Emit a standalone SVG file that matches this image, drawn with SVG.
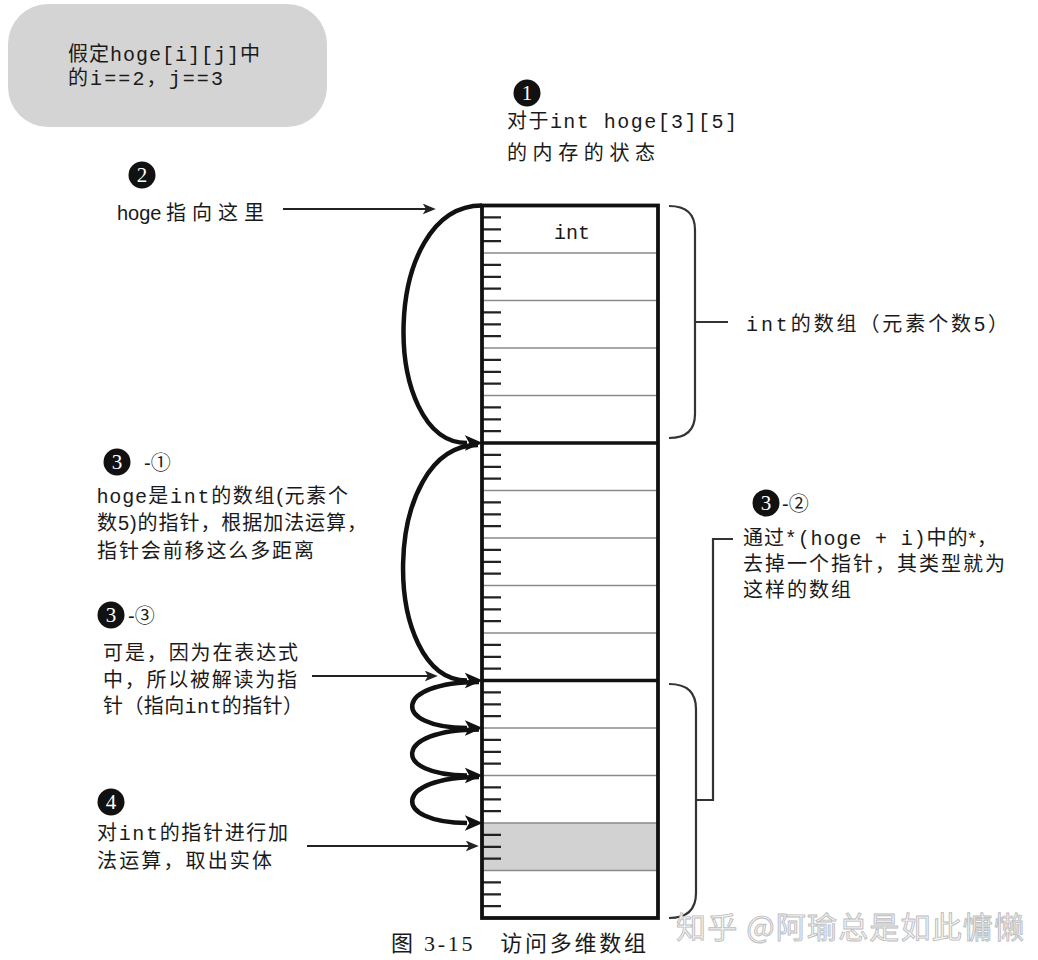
<svg xmlns="http://www.w3.org/2000/svg" width="1038" height="960" viewBox="0 0 1038 960">
<style>
.t{font-family:"Liberation Sans","Noto Sans CJK SC",sans-serif;font-size:20px;fill:#1a1a1a}
.m{font-family:"Liberation Mono","Noto Sans CJK SC",monospace}
.num{fill:#111}
.numt{font-family:"Liberation Serif","DejaVu Serif",serif;font-size:21px;fill:#fff;text-anchor:middle}
.thick{fill:none;stroke:#111;stroke-width:4.5}
.thin{fill:none;stroke:#222;stroke-width:1.8}
.brk{fill:none;stroke:#333;stroke-width:2.2}
.cellline{stroke:#8a8a8a;stroke-width:1.5}
.sep{stroke:#111;stroke-width:3.5}
.tick{fill:none;stroke:#222;stroke-width:2.2}
</style>
<defs>
<marker id="big" markerUnits="userSpaceOnUse" markerWidth="18" markerHeight="18" viewBox="0 0 16 16" refX="2" refY="8" orient="auto">
<path d="M0,1 L16,8 L0,15 L4,8 z" fill="#111"/>
</marker>
<marker id="small" markerUnits="userSpaceOnUse" markerWidth="13" markerHeight="11" viewBox="0 0 12 10" refX="3" refY="5" orient="auto">
<path d="M0,0 L12,5 L0,10 L3,5 z" fill="#222"/>
</marker>
</defs>
<rect width="1038" height="960" fill="#fff"/>

<g id="assumption">
<rect x="8" y="4" width="319" height="123" rx="40" ry="40" fill="#d4d4d4"/>
<text class="t" x="68" y="61" font-size="20" textLength="192" lengthAdjust="spacing">假定<tspan class="m">hoge[i][j]</tspan>中</text>
<text class="t" x="68" y="85" font-size="20" textLength="155" lengthAdjust="spacing">的<tspan class="m">i==2</tspan>，<tspan class="m">j==3</tspan></text>
</g>

<g id="label1">
<circle class="num" cx="527" cy="93" r="13.5"/>
<text class="numt" x="527" y="100">1</text>
<text class="t" x="507" y="128" font-size="21" textLength="230" lengthAdjust="spacing">对于<tspan class="m">int hoge[3][5]</tspan></text>
<text class="t" x="507" y="160" font-size="21" textLength="148" lengthAdjust="spacing">的内存的状态</text>
</g>

<g id="label2">
<circle class="num" cx="142" cy="175" r="13.5"/>
<text class="numt" x="142" y="182">2</text>
<text class="t" x="117" y="220" font-size="21">hoge<tspan x="166" dx="0 6 6 6">指向这里</tspan></text>
</g>

<g id="memory">
<rect x="482" y="205.5" width="176" height="712.5" fill="#fff"/>
<rect x="482" y="823" width="176" height="47.5" fill="#d2d2d2"/>
<path class="cellline" d="M482 253H658M482 300.5H658M482 348H658M482 395.5H658M482 490.5H658M482 538H658M482 585.5H658M482 633H658M482 728H658M482 775.5H658M482 823H658M482 870.5H658"/>
<path class="sep" d="M482 443H658M482 680.5H658"/>
<path class="tick" d="M482 217.4h19M482 229.3h19M482 241.1h19M482 264.9h19M482 276.8h19M482 288.6h19M482 312.4h19M482 324.3h19M482 336.1h19M482 359.9h19M482 371.8h19M482 383.6h19M482 407.4h19M482 419.3h19M482 431.1h19M482 454.9h19M482 466.8h19M482 478.6h19M482 502.4h19M482 514.3h19M482 526.1h19M482 549.9h19M482 561.8h19M482 573.6h19M482 597.4h19M482 609.3h19M482 621.1h19M482 644.9h19M482 656.8h19M482 668.6h19M482 692.4h19M482 704.3h19M482 716.1h19M482 739.9h19M482 751.8h19M482 763.6h19M482 787.4h19M482 799.3h19M482 811.1h19M482 834.9h19M482 846.8h19M482 858.6h19M482 882.4h19M482 894.3h19M482 906.1h19"/>
<rect x="482" y="205.5" width="176" height="712.5" fill="none" stroke="#111" stroke-width="3.8"/>
<text class="t m" x="572" y="239" font-size="21" text-anchor="middle">int</text>
</g>

<g id="label-array">
<text class="t" x="746" y="331" font-size="21" textLength="262" lengthAdjust="spacing"><tspan class="m">int</tspan>的数组（元素个数5）</text>
</g>

<g id="label3-1">
<circle class="num" cx="117" cy="462" r="13.5"/>
<text class="numt" x="117" y="469">3</text>
<text class="t" x="144" y="470" font-size="22">-①</text>
<text class="t" x="97" y="503" textLength="251" lengthAdjust="spacing">hoge是<tspan class="m">int</tspan>的数组(元素个</text>
<text class="t" x="97" y="530" textLength="270" lengthAdjust="spacing">数5)的指针，根据加法运算，</text>
<text class="t" x="97" y="558" textLength="217" lengthAdjust="spacing">指针会前移这么多距离</text>
</g>

<g id="label3-2">
<circle class="num" cx="766" cy="503" r="13.5"/>
<text class="numt" x="766" y="510">3</text>
<text class="t" x="782" y="511" font-size="22">-②</text>
<text class="t" x="743" y="545" textLength="254" lengthAdjust="spacing">通过<tspan class="m">*(hoge + i)</tspan>中的*，</text>
<text class="t" x="743" y="571" textLength="262" lengthAdjust="spacing">去掉一个指针，其类型就为</text>
<text class="t" x="743" y="597" textLength="108" lengthAdjust="spacing">这样的数组</text>
</g>

<g id="label3-3">
<circle class="num" cx="111" cy="615" r="13.5"/>
<text class="numt" x="111" y="622">3</text>
<text class="t" x="128" y="623" font-size="22">-③</text>
<text class="t" x="103" y="660" textLength="195" lengthAdjust="spacing">可是，因为在表达式</text>
<text class="t" x="103" y="687" textLength="194" lengthAdjust="spacing">中，所以被解读为指</text>
<text class="t" x="103" y="713" textLength="200" lengthAdjust="spacing">针（指向<tspan class="m">int</tspan>的指针）</text>
</g>

<g id="label4">
<circle class="num" cx="111" cy="802" r="13.5"/>
<text class="numt" x="111" y="809">4</text>
<text class="t" x="97" y="840" textLength="191" lengthAdjust="spacing">对<tspan class="m">int</tspan>的指针进行加</text>
<text class="t" x="97" y="868" textLength="175" lengthAdjust="spacing">法运算，取出实体</text>
</g>

<g id="connectors">
<path class="thick" d="M482,205.5 C380,205.5 380,443 467,443" marker-end="url(#big)"/>
<path class="thick" d="M478,445 C380,445 380,680.5 467,680.5" marker-end="url(#big)"/>
<path class="thick" d="M479,682 C392,682 392,728 467,728" marker-end="url(#big)"/>
<path class="thick" d="M479,729.5 C392,729.5 392,775.5 467,775.5" marker-end="url(#big)"/>
<path class="thick" d="M479,777 C392,777 392,823 467,823" marker-end="url(#big)"/>
<path class="thin" d="M283,209 H426" marker-end="url(#small)"/>
<path class="thin" d="M312,676 H428" marker-end="url(#small)"/>
<path class="thin" d="M307,846 H469" marker-end="url(#small)"/>
<path class="brk" d="M669,206 Q695,206 695,230 V414 Q695,438 669,438 M695,322 H728"/>
<path class="brk" d="M669,684 Q696,684 696,709 V893 Q696,918 669,918 M733,539 H713 V800 H696"/>
</g>

<g id="caption">
<text x="391" y="951" font-family="'Liberation Serif','Noto Sans CJK SC',serif" font-size="22" fill="#1a1a1a" textLength="255" lengthAdjust="spacing">图 3-15　访问多维数组</text>
</g>

<g id="watermark">
<text x="676" y="938" font-family="'Noto Sans CJK SC',sans-serif" font-size="30" fill="#f4f4f4" stroke="#bdbdbd" stroke-width="0.9" textLength="348" lengthAdjust="spacing">知乎 @阿瑜总是如此慵懒</text>
</g>
</svg>
